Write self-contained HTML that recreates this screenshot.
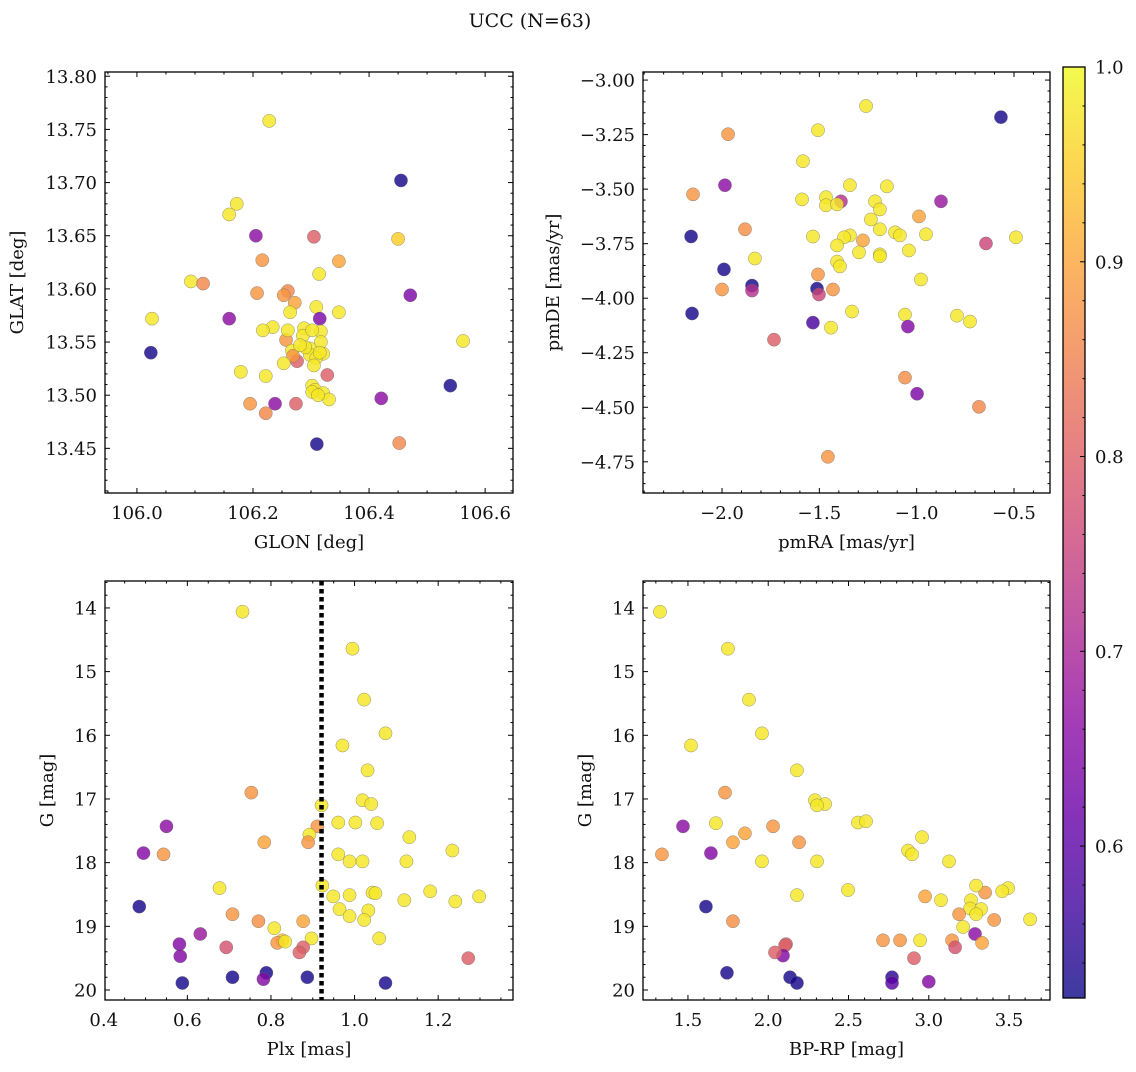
<!DOCTYPE html>
<html><head><meta charset="utf-8"><style>
html,body{margin:0;padding:0;background:#fff}
svg text{font-family:"DejaVu Serif","Liberation Serif",serif;fill:#111}
</style></head><body>
<svg id="fig" width="1136" height="1067" viewBox="0 0 1136 1067" xmlns="http://www.w3.org/2000/svg">
<defs>
<linearGradient id="plasma" x1="0" y1="1" x2="0" y2="0">
<stop offset="0" stop-color="#0d0887"/><stop offset="0.1" stop-color="#41049d"/><stop offset="0.2" stop-color="#6a00a8"/><stop offset="0.3" stop-color="#8f0da4"/><stop offset="0.4" stop-color="#b12a90"/><stop offset="0.5" stop-color="#cc4778"/><stop offset="0.6" stop-color="#e16462"/><stop offset="0.7" stop-color="#f2844b"/><stop offset="0.8" stop-color="#fca636"/><stop offset="0.9" stop-color="#fcce25"/><stop offset="1" stop-color="#f0f921"/>
</linearGradient>
</defs>
<text x="530" y="27" text-anchor="middle" font-size="19">UCC (N=63)</text>
</svg>
<script>
// ---- Panel 1: GLON vs GLAT ----
const glon = [106.228,106.455,106.172,106.159,106.205,106.305,106.450,106.216,106.348,106.314,106.093,106.114,106.207,106.260,106.253,106.471,106.272,106.309,106.264,106.348,106.026,106.159,106.315,106.234,106.217,106.288,106.317,106.286,106.257,106.317,106.562,106.298,106.267,106.024,106.321,106.298,106.276,106.269,106.179,106.222,106.253,106.328,106.540,106.302,106.307,106.321,106.302,106.331,106.421,106.195,106.238,106.274,106.222,106.310,106.452,106.290,106.309,106.260,106.302,106.281,106.315,106.305,106.312];
const glat = [13.758,13.702,13.680,13.670,13.650,13.649,13.647,13.627,13.626,13.614,13.607,13.605,13.596,13.598,13.594,13.594,13.587,13.583,13.578,13.578,13.572,13.572,13.572,13.564,13.561,13.563,13.560,13.556,13.552,13.550,13.551,13.544,13.542,13.540,13.539,13.538,13.532,13.537,13.522,13.518,13.530,13.519,13.509,13.509,13.505,13.502,13.503,13.496,13.497,13.492,13.492,13.492,13.483,13.454,13.455,13.545,13.535,13.561,13.561,13.547,13.540,13.528,13.500];
const prob1 = [.98,.53,.98,.98,.66,.8,.95,.88,.9,.98,.98,.86,.88,.86,.88,.64,.9,.98,.98,.98,.98,.66,.64,.98,.98,.98,.98,.98,.88,.98,.98,.98,.98,.53,.98,.98,.8,.88,.98,.98,.98,.8,.53,.98,.98,.98,.98,.98,.66,.88,.66,.8,.86,.53,.86,.98,.98,.98,.98,.98,.98,.98,.98];
// ---- Panel 2: pmRA vs pmDE ----
const pmra = [-1.260,-0.567,-1.969,-1.507,-1.584,-1.153,-1.343,-1.985,-2.149,-1.466,-1.389,-1.214,-0.875,-1.589,-1.466,-1.409,-1.189,-0.988,-1.235,-1.882,-1.189,-1.111,-1.086,-0.952,-1.533,-1.343,-1.373,-2.159,-0.490,-0.644,-1.276,-1.409,-1.040,-1.189,-1.296,-1.831,-1.189,-1.409,-1.394,-1.990,-0.978,-1.846,-1.512,-1.507,-1.846,-1.430,-1.502,-2.000,-0.793,-1.060,-2.154,-1.332,-0.726,-1.533,-1.045,-1.440,-1.733,-1.060,-0.998,-0.680,-1.456];
const pmde = [-3.119,-3.170,-3.248,-3.230,-3.372,-3.487,-3.482,-3.482,-3.524,-3.537,-3.556,-3.556,-3.556,-3.547,-3.574,-3.570,-3.593,-3.625,-3.639,-3.684,-3.684,-3.698,-3.712,-3.707,-3.717,-3.712,-3.721,-3.717,-3.721,-3.749,-3.735,-3.758,-3.781,-3.799,-3.790,-3.818,-3.808,-3.832,-3.854,-3.868,-3.914,-3.942,-3.956,-3.891,-3.965,-3.960,-3.983,-3.960,-4.080,-4.075,-4.070,-4.061,-4.107,-4.112,-4.130,-4.135,-4.190,-4.364,-4.438,-4.498,-4.727];
const prob2 = [.98,.53,.88,.98,.98,.98,.98,.66,.88,.98,.72,.98,.68,.98,.98,.98,.98,.9,.98,.87,.98,.98,.98,.98,.98,.98,.98,.53,.98,.76,.9,.98,.98,.98,.98,.98,.98,.98,.98,.53,.98,.53,.53,.88,.72,.88,.76,.88,.98,.98,.53,.98,.98,.58,.65,.98,.8,.87,.64,.86,.88];
// ---- Panel 3: Plx vs G ----
const plx = [0.732,0.995,1.023,0.971,1.074,1.031,0.753,0.921,1.019,1.040,1.054,0.961,1.002,0.911,0.550,1.131,0.892,0.495,0.543,1.234,0.784,0.889,0.961,1.019,0.988,1.124,0.677,1.181,0.923,0.949,0.988,1.043,1.050,1.119,1.241,1.298,0.485,0.964,1.033,0.988,0.708,1.023,0.770,0.877,0.808,0.631,0.897,1.059,0.827,0.815,0.834,0.693,0.581,0.877,0.868,0.583,1.272,0.708,0.789,0.887,0.782,0.588,1.074];
const gmag3 = [14.06,14.64,15.44,16.16,15.97,16.55,16.90,17.10,17.02,17.08,17.38,17.37,17.37,17.43,17.43,17.60,17.56,17.85,17.87,17.81,17.68,17.68,17.87,17.98,17.98,17.98,18.40,18.45,18.36,18.53,18.51,18.47,18.48,18.59,18.61,18.53,18.69,18.73,18.75,18.84,18.81,18.90,18.92,18.92,19.03,19.12,19.19,19.19,19.22,19.26,19.24,19.33,19.28,19.33,19.41,19.47,19.50,19.80,19.73,19.80,19.83,19.89,19.89];
const prob3 = [.98,.98,.98,.98,.98,.98,.88,.98,.98,.98,.98,.98,.98,.88,.66,.98,.98,.65,.88,.98,.9,.88,.98,.98,.98,.98,.98,.98,.98,.98,.98,.98,.98,.98,.98,.98,.53,.98,.98,.98,.88,.98,.87,.9,.98,.68,.98,.98,.93,.88,.98,.78,.65,.8,.8,.65,.8,.53,.53,.53,.65,.53,.53];
const plxCut = [0.921];
// ---- Panel 4: BP-RP vs G ----
const bprp = [1.326,1.749,1.880,1.519,1.961,2.179,1.731,2.291,2.354,2.304,2.559,2.609,1.674,1.469,2.030,2.958,1.855,1.780,2.192,2.871,1.338,1.643,2.896,1.961,2.304,3.126,3.494,2.497,3.457,2.179,3.351,3.295,2.977,3.263,3.076,3.257,3.326,1.612,3.407,3.189,3.631,1.780,3.295,3.214,3.288,3.145,2.715,2.946,2.821,3.332,2.111,2.105,3.164,2.092,2.042,2.908,1.743,2.136,2.771,2.771,2.179,3.000];
const gmag4 = [14.06,14.64,15.44,16.16,15.97,16.55,16.90,17.02,17.08,17.10,17.37,17.35,17.38,17.43,17.43,17.60,17.54,17.68,17.68,17.81,17.87,17.85,17.87,17.98,17.98,17.98,18.40,18.43,18.45,18.51,18.47,18.36,18.53,18.59,18.59,18.72,18.73,18.69,18.90,18.81,18.89,18.92,18.81,19.01,19.12,19.22,19.22,19.22,19.22,19.26,19.28,19.30,19.33,19.46,19.41,19.50,19.73,19.80,19.80,19.89,19.89,19.87];
const prob4 = [.98,.98,.98,.98,.98,.98,.88,.98,.98,.98,.98,.98,.98,.66,.88,.98,.9,.9,.88,.98,.88,.65,.98,.98,.98,.98,.98,.98,.98,.98,.88,.98,.9,.98,.98,.98,.98,.53,.88,.88,.98,.87,.98,.98,.66,.88,.88,.98,.88,.9,.8,.8,.78,.65,.8,.8,.53,.53,.55,.6,.53,.65];
// ---- Colorbar ----
const cbTicks = [0.6,0.7,0.8,0.9,1.0];
const cbRange = [0.522,1.0];

const NS='http://www.w3.org/2000/svg';
const svg=document.getElementById('fig');
const FS=18;
function mk(tag,attrs,parent){const e=document.createElementNS(NS,tag);for(const k in attrs)e.setAttribute(k,attrs[k]);(parent||svg).appendChild(e);return e;}
const stops=[[13,8,135],[65,4,157],[106,0,168],[143,13,164],[177,42,144],[204,71,120],[225,100,98],[242,132,75],[252,166,54],[252,206,37],[240,249,33]];
function plasma(p){let t=(p-cbRange[0])/(cbRange[1]-cbRange[0]);t=Math.max(0,Math.min(1,t))*10;const i=Math.min(9,Math.floor(t)),f=t-i;const a=stops[i],b=stops[i+1];return 'rgb('+[0,1,2].map(k=>Math.round(a[k]+(b[k]-a[k])*f)).join(',')+')';}

function panel(o){
  const g=mk('g',{});
  
  
  const sx=v=>o.x0+(v-o.xmin)/(o.xmax-o.xmin)*(o.x1-o.x0);
  const sy=o.yinv?(v=>o.y0+(v-o.ymin)/(o.ymax-o.ymin)*(o.y1-o.y0)):(v=>o.y1-(v-o.ymin)/(o.ymax-o.ymin)*(o.y1-o.y0));
  const tk=mk('g',{stroke:'#000','stroke-width':1},g);
  
  
  const eps=1e-9;
  for(let v=Math.ceil(o.xmin/o.xminor-eps)*o.xminor;v<=o.xmax+eps;v+=o.xminor){const x=sx(v);const isMaj=Math.abs(v/o.xmajor-Math.round(v/o.xmajor))<1e-6;const L=isMaj?5:2.5;
    mk('line',{x1:x,x2:x,y1:o.y1,y2:o.y1-L},tk);mk('line',{x1:x,x2:x,y1:o.y0,y2:o.y0+L},tk);}
  for(let i=0;i<o.xticks.length;i++){const t=mk('text',{x:sx(o.xticks[i]),y:o.y1+26,'text-anchor':'middle','font-size':FS},g);t.textContent=o.xlabels[i];
    
    }
  const ylo=Math.min(o.ymin,o.ymax),yhi=Math.max(o.ymin,o.ymax);
  for(let v=Math.ceil(ylo/o.yminor-eps)*o.yminor;v<=yhi+eps;v+=o.yminor){const y=sy(v);const isMaj=Math.abs(v/o.ymajor-Math.round(v/o.ymajor))<1e-6;const L=isMaj?5:2.5;
    mk('line',{x1:o.x0,x2:o.x0+L,y1:y,y2:y},tk);mk('line',{x1:o.x1,x2:o.x1-L,y1:y,y2:y},tk);}
  for(let i=0;i<o.yticks.length;i++){const t=mk('text',{x:o.x0-8,y:sy(o.yticks[i])+6.5,'text-anchor':'end','font-size':FS},g);t.textContent=o.ylabels[i];
    
    }
  const pts=mk('g',{},g);
  
  
  for(let i=0;i<o.xs.length;i++){const c=mk('circle',{cx:sx(o.xs[i]),cy:sy(o.ys[i]),r:6.6,fill:plasma(o.cs[i]),'fill-opacity':0.82,stroke:'#666','stroke-width':0.5,'stroke-opacity':0.7},pts);
    
    }
  if(o.vline){for(const v of o.vline){const l=mk('line',{x1:sx(v),x2:sx(v),y1:o.y0,y2:o.y1,stroke:'#000','stroke-width':4.5,'stroke-dasharray':'4.5 3.5'},g);
    
    }}
  const fr=mk('rect',{x:o.x0,y:o.y0,width:o.x1-o.x0,height:o.y1-o.y0,fill:'none',stroke:'#000','stroke-width':1.3},g);
  
  
  const xl=mk('text',{x:(o.x0+o.x1)/2,y:o.y1+55,'text-anchor':'middle','font-size':FS},g);xl.textContent=o.xtitle;
  
  
  const yc=(o.y0+o.y1)/2;
  const yl=mk('text',{x:o.ytx,y:yc,'text-anchor':'middle','font-size':FS,transform:'rotate(-90 '+o.ytx+' '+yc+')'},g);yl.textContent=o.ytitle;
  
  
}
function rng(a,b,s){const r=[];for(let v=a;v<=b+1e-9;v+=s)r.push(+v.toFixed(6));return r;}
const gT=[14,15,16,17,18,19,20];
panel({name:'glon-glat-panel',x0:105,x1:513,y0:72,y1:493,xmin:105.945,xmax:106.648,ymin:13.408,ymax:13.804,
  xmajor:0.2,xminor:0.05,ymajor:0.05,yminor:0.01,xticks:[106.0,106.2,106.4,106.6],xlabels:['106.0','106.2','106.4','106.6'],
  yticks:rng(13.45,13.80,0.05),ylabels:rng(13.45,13.80,0.05).map(v=>v.toFixed(2)),xs:glon,ys:glat,cs:prob1,xtitle:'GLON [deg]',ytitle:'GLAT [deg]',ytx:23});
panel({name:'pm-panel',x0:643,x1:1050,y0:72,y1:493,xmin:-2.406,xmax:-0.315,ymin:-4.893,ymax:-2.963,
  xmajor:0.5,xminor:0.1,ymajor:0.25,yminor:0.05,xticks:[-2,-1.5,-1,-0.5],xlabels:['\u22122.0','\u22121.5','\u22121.0','\u22120.5'],
  yticks:rng(-4.75,-3.0,0.25),ylabels:rng(-4.75,-3.0,0.25).map(v=>'\u2212'+Math.abs(v).toFixed(2)),xs:pmra,ys:pmde,cs:prob2,xtitle:'pmRA [mas/yr]',ytitle:'pmDE [mas/yr]',ytx:559});
panel({name:'plx-g-panel',x0:105,x1:513,y0:581,y1:1000,xmin:0.403,xmax:1.379,ymin:13.577,ymax:20.157,yinv:true,
  xmajor:0.2,xminor:0.05,ymajor:1,yminor:0.2,xticks:[0.4,0.6,0.8,1.0,1.2],xlabels:['0.4','0.6','0.8','1.0','1.2'],
  yticks:gT,ylabels:gT.map(String),xs:plx,ys:gmag3,cs:prob3,vline:plxCut,xtitle:'Plx [mas]',ytitle:'G [mag]',ytx:53});
panel({name:'cmd-panel',x0:643,x1:1050,y0:581,y1:1000,xmin:1.220,xmax:3.755,ymin:13.577,ymax:20.157,yinv:true,
  xmajor:0.5,xminor:0.1,ymajor:1,yminor:0.2,xticks:[1.5,2.0,2.5,3.0,3.5],xlabels:['1.5','2.0','2.5','3.0','3.5'],
  yticks:gT,ylabels:gT.map(String),xs:bprp,ys:gmag4,cs:prob4,xtitle:'BP-RP [mag]',ytitle:'G [mag]',ytx:591});
(function(){
  const x0=1063,x1=1085,y0=67,y1=998;
  const cb=mk('g',{});
  
  
  mk('rect',{x:x0,y:y0,width:x1-x0,height:y1-y0,fill:'url(#plasma)','fill-opacity':0.8},cb);
  const sy=v=>y1-(v-cbRange[0])/(cbRange[1]-cbRange[0])*(y1-y0);
  for(let v=0.54;v<=1.0001;v+=0.02){const y=sy(v);const maj=Math.abs(v*10-Math.round(v*10))<1e-6;mk('line',{x1:x1,x2:x1-(maj?5:2.5),y1:y,y2:y,stroke:'#000','stroke-width':1},cb);}
  for(const v of cbTicks){const t=mk('text',{x:x1+10,y:sy(v)+6.5,'font-size':FS},cb);t.textContent=v.toFixed(1);
    
    }
  mk('rect',{x:x0,y:y0,width:x1-x0,height:y1-y0,fill:'none',stroke:'#000','stroke-width':1.3},cb);
})();
</script>
</body></html>
